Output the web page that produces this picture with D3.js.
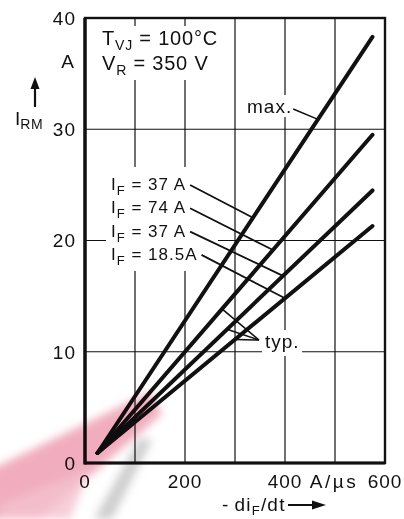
<!DOCTYPE html>
<html>
<head>
<meta charset="utf-8">
<script src="https://cdn.jsdelivr.net/npm/d3@7"></script>
<style>
  html, body { margin: 0; padding: 0; background: #fff; }
  svg { display: block; }
</style>
</head>
<body>
<div id="chart"></div>
<script>
// ---- data ----
const diRange = [25, 575];        // -diF/dt at both ends of every curve (A/µs)
const irmMax = [0.9, 38.3];       // IF = 37 A, max.
const irm74 = [0.9, 29.5];        // IF = 74 A, typ.
const irm37 = [0.9, 24.5];        // IF = 37 A, typ.
const irm18 = [0.9, 21.3];        // IF = 18.5 A, typ.
const ifLabels = ["37 A", "74 A", "37 A", "18.5A"];
const ifLeaderAt = [336, 376, 396, 400];   // where each IF leader touches its curve
const typLeaderAt = [274, 284, 300];       // typ. leaders on curves 2..4
const maxLeaderAt = 466;
const xTickValues = [0, 200, 400, 600];
const yTickValues = [0, 10, 20, 30, 40];
const xGridValues = [100, 200, 300, 400, 500];
const yGridValues = [10, 20, 30];

const series = [irmMax, irm74, irm37, irm18];

// ---- setup ----
const W = 404, H = 519;
const FONT = "'Liberation Sans', Arial, Helvetica, sans-serif";
const ink = "#111";

const x = d3.scaleLinear().domain([0, 600]).range([85, 385]);
const y = d3.scaleLinear().domain([0, 40]).range([463, 18]);
const curveAt = (s, v) => d3.scaleLinear().domain(diRange).range(s)(v);

const svg = d3.select("#chart").append("svg")
  .attr("width", W).attr("height", H)
  .style("font-family", FONT)
  .style("background", "#fff");

// grid
svg.append("g").selectAll("line").data(xGridValues).join("line")
  .attr("x1", d => x(d)).attr("x2", d => x(d))
  .attr("y1", y(40)).attr("y2", y(0))
  .attr("stroke", ink).attr("stroke-width", 1.2);
svg.append("g").selectAll("line").data(yGridValues).join("line")
  .attr("x1", x(0)).attr("x2", x(600))
  .attr("y1", d => y(d)).attr("y2", d => y(d))
  .attr("stroke", ink).attr("stroke-width", 1.2);

// white patches behind the annotations (they interrupt the grid)
const patches = [[95, 26, 132, 54], [106, 167, 112, 104], [244, 95, 52, 22], [262, 330, 40, 26]];
svg.append("g").selectAll("rect").data(patches).join("rect")
  .attr("x", d => d[0]).attr("y", d => d[1])
  .attr("width", d => d[2]).attr("height", d => d[3])
  .attr("fill", "#fff");

// frame
svg.append("rect")
  .attr("x", x(0)).attr("y", y(40))
  .attr("width", x(600) - x(0)).attr("height", y(0) - y(40))
  .attr("fill", "none").attr("stroke", ink).attr("stroke-width", 2.4);
svg.append("line").attr("x1", x(0)).attr("x2", x(0)).attr("y1", y(40)).attr("y2", y(0) + 1.5)
  .attr("stroke", ink).attr("stroke-width", 3.4);
svg.append("line").attr("x1", x(0)).attr("x2", x(600)).attr("y1", y(0)).attr("y2", y(0))
  .attr("stroke", ink).attr("stroke-width", 3);

// curves
const line = d3.line().x(d => x(d[0])).y(d => y(d[1]));
svg.append("g").selectAll("path").data(series).join("path")
  .attr("d", s => line(diRange.map((v, i) => [v, s[i]])))
  .attr("fill", "none").attr("stroke", ink)
  .attr("stroke-width", 4).attr("stroke-linecap", "round");

// tick labels
const tickStyle = sel => sel.style("font-size", "19px").style("letter-spacing", "1px").attr("fill", ink);
svg.append("g").selectAll("text").data(yTickValues).join("text")
  .attr("x", 76).attr("y", d => y(d)).attr("dy", "0.36em")
  .attr("text-anchor", "end").text(d => d).call(tickStyle);
svg.append("g").selectAll("text").data(xTickValues).join("text")
  .attr("x", d => x(d)).attr("y", 488)
  .attr("text-anchor", "middle").text(d => d).call(tickStyle);
svg.append("text").attr("x", x(500) - 1).attr("y", 488).attr("text-anchor", "middle")
  .text("A/µs").call(tickStyle).style("letter-spacing", "2.5px");

// y axis title
svg.append("text").attr("x", 68).attr("y", 68).attr("text-anchor", "middle")
  .text("A").call(tickStyle);
svg.append("line").attr("x1", 35).attr("x2", 35).attr("y1", 107).attr("y2", 86)
  .attr("stroke", ink).attr("stroke-width", 2.2);
svg.append("path").attr("d", "M30.5,89 L39.5,89 L35,77 Z").attr("fill", ink);
const yTitle = svg.append("text").attr("x", 15).attr("y", 125).attr("fill", ink)
  .style("font-size", "19px");
yTitle.append("tspan").text("I");
yTitle.append("tspan").attr("dy", 4).style("font-size", "14px").style("letter-spacing", "0.5px").text("RM");

// x axis title
const xTitle = svg.append("text").attr("x", 222).attr("y", 511).attr("fill", ink)
  .style("font-size", "19px").style("letter-spacing", "1.2px");
xTitle.append("tspan").text("-\u2009di");
xTitle.append("tspan").attr("dy", 4).style("font-size", "13px").text("F");
xTitle.append("tspan").attr("dy", -4).text("/dt");
svg.append("line").attr("x1", 288).attr("x2", 314).attr("y1", 505).attr("y2", 505)
  .attr("stroke", ink).attr("stroke-width", 2);
svg.append("path").attr("d", "M312,500.5 L326,505 L312,509.5 Z").attr("fill", ink);

// conditions
const cond = [["T", "VJ", " = 100°C", 45], ["V", "R", " = 350  V", 70]];
cond.forEach(([main, sub, rest, base]) => {
  const t = svg.append("text").attr("x", 102).attr("y", base).attr("fill", ink)
    .style("font-size", "20px").style("letter-spacing", "0.8px");
  t.append("tspan").text(main);
  t.append("tspan").attr("dy", 5).style("font-size", "14px").text(sub);
  t.append("tspan").attr("dy", -5).text(rest);
});

// IF labels + leaders
ifLabels.forEach((lab, i) => {
  const base = 190 + i * 23.3;
  const t = svg.append("text").attr("x", 111).attr("y", base).attr("fill", ink)
    .style("font-size", "17px").style("letter-spacing", "1px");
  t.append("tspan").text("I");
  t.append("tspan").attr("dy", 5).style("font-size", "13px").text("F");
  t.append("tspan").attr("dy", -5).text(" = " + lab);
  const bb = t.node().getBBox();
  const xv = ifLeaderAt[i];
  svg.append("line")
    .attr("x1", bb.x + bb.width + 4).attr("y1", base - 5)
    .attr("x2", x(xv)).attr("y2", y(curveAt(series[i], xv)))
    .attr("stroke", ink).attr("stroke-width", 1.8);
});

// max.
const maxT = svg.append("text").attr("x", 247).attr("y", 113).attr("fill", ink)
  .style("font-size", "19px").style("letter-spacing", "1px").text("max.");
const mbb = maxT.node().getBBox();
svg.append("line")
  .attr("x1", mbb.x + mbb.width + 1).attr("y1", 109)
  .attr("x2", x(maxLeaderAt)).attr("y2", y(curveAt(irmMax, maxLeaderAt)))
  .attr("stroke", ink).attr("stroke-width", 1.6);

// typ.
svg.append("text").attr("x", 265).attr("y", 348).attr("fill", ink)
  .style("font-size", "19px").style("letter-spacing", "1px").text("typ.");
svg.append("g").selectAll("line").data(typLeaderAt).join("line")
  .attr("x1", 259).attr("y1", 340)
  .attr("x2", (d) => x(d))
  .attr("y2", (d, i) => y(curveAt(series[i + 1], d)))
  .attr("stroke", ink).attr("stroke-width", 1.6);

// scanner watermark swooshes, bottom left
const defs = svg.append("defs");
defs.append("filter").attr("id", "soft").append("feGaussianBlur").attr("stdDeviation", 4);
const wm = svg.append("g").style("mix-blend-mode", "multiply").attr("filter", "url(#soft)");
wm.append("path").attr("d", "M-10,519 L-10,470 L150,392 L162,414 L40,519 Z")
  .attr("fill", "#ee9fb2").attr("opacity", 0.85);
wm.append("path").attr("d", "M0,519 L0,505 L90,470 L70,519 Z")
  .attr("fill", "#f4c3cf").attr("opacity", 0.8);
wm.append("path").attr("d", "M94,519 L140,438 L152,440 L112,519 Z")
  .attr("fill", "#c9c9c9").attr("opacity", 0.9);
</script>
</body>
</html>
